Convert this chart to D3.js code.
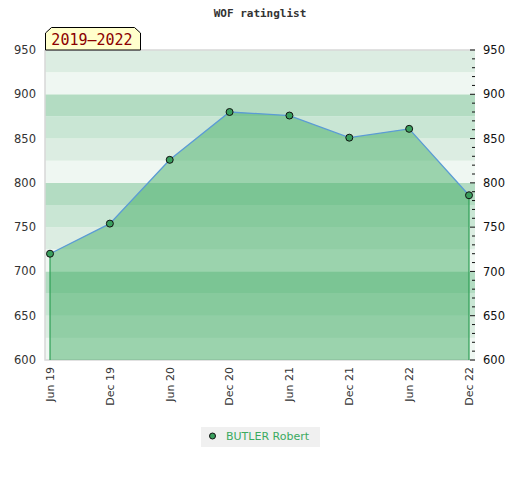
<!DOCTYPE html>
<html>
<head>
<meta charset="utf-8">
<script src="https://cdn.jsdelivr.net/npm/d3@7"></script>
<style>
  body { margin: 0; background: #fff; }
  svg { display: block; }
</style>
</head>
<body>
<script>
// data
const periods = ["Jun 19", "Dec 19", "Jun 20", "Dec 20", "Jun 21", "Dec 21", "Jun 22", "Dec 22"];
const ratings = [720, 754, 826, 880, 876, 851, 861, 786];
const yTicks = [600, 650, 700, 750, 800, 850, 900, 950];
const playerName = "BUTLER Robert";
const rangeLabel = "2019\u20132022";

const W = 520, H = 480;
const plot = { left: 45, right: 475, top: 50, bottom: 360 };

const svg = d3.select("body").append("svg")
    .attr("width", W)
    .attr("height", H);

const x = d3.scalePoint().domain(periods).range([50, 469]);
const y = d3.scaleLinear().domain([600, 950]).range([plot.bottom, plot.top]);

// background bands, 25 points each, repeating every 100
const bandColors = ["#b3dcc2", "#c9e6d4", "#dcede2", "#eff7f2"];
const bands = d3.range(600, 950, 25);
svg.append("g").selectAll("rect")
    .data(bands)
    .enter().append("rect")
    .attr("x", plot.left)
    .attr("width", plot.right - plot.left)
    .attr("y", d => y(d + 25))
    .attr("height", d => y(d) - y(d + 25))
    .attr("fill", d => bandColors[(3 - ((d % 100) / 25))]);

// frame
svg.append("path")
    .attr("d", `M${plot.left},${plot.top}H${plot.right}M${plot.left},${plot.top}V${plot.bottom}H${plot.right}`)
    .attr("fill", "none")
    .attr("stroke", "#d8d8d8")
    .attr("stroke-width", 1.5);

const pts = periods.map((p, i) => ({ p: p, v: ratings[i] }));

// area under the rating line
const area = d3.area()
    .x(d => x(d.p))
    .y0(y(600))
    .y1(d => y(d.v));

svg.append("path")
    .datum(pts)
    .attr("d", area)
    .attr("fill", "rgb(62,172,98)")
    .attr("fill-opacity", 0.48);

// green drop lines at both ends
svg.append("g").selectAll("line")
    .data([pts[0], pts[pts.length - 1]])
    .enter().append("line")
    .attr("x1", d => x(d.p)).attr("x2", d => x(d.p))
    .attr("y1", d => y(d.v)).attr("y2", y(600))
    .attr("stroke", "#2e9e55")
    .attr("stroke-width", 1.2);

const line = d3.line()
    .x(d => x(d.p))
    .y(d => y(d.v));

svg.append("path")
    .datum(pts)
    .attr("d", line)
    .attr("fill", "none")
    .attr("stroke", "#5b9bd5")
    .attr("stroke-width", 1.3);

svg.append("g").selectAll("circle")
    .data(pts)
    .enter().append("circle")
    .attr("cx", d => x(d.p))
    .attr("cy", d => y(d.v))
    .attr("r", 3.5)
    .attr("fill", "#3a9f5e")
    .attr("stroke", "#111")
    .attr("stroke-width", 1);

// left axis labels
svg.append("g").selectAll("text")
    .data(yTicks)
    .enter().append("text")
    .attr("x", 36)
    .attr("y", d => y(d))
    .attr("dy", "0.35em")
    .attr("text-anchor", "end")
    .attr("font-family", "DejaVu Sans, sans-serif")
    .attr("font-size", 11.5)
    .attr("fill", "#333")
    .text(d => d);

// right axis with minor ticks every 10
const rightAxis = d3.axisRight(y)
    .tickValues(yTicks)
    .tickSize(0)
    .tickPadding(8);

const ra = svg.append("g")
    .attr("transform", `translate(${plot.right},0)`)
    .call(rightAxis);
ra.select(".domain").remove();
ra.selectAll("text")
    .attr("font-family", "DejaVu Sans, sans-serif")
    .attr("font-size", 11.5)
    .attr("fill", "#111");

svg.append("g").selectAll("line")
    .data(d3.range(600, 951, 10))
    .enter().append("line")
    .attr("x1", d => d % 50 === 0 ? plot.right - 5 : plot.right - 3)
    .attr("x2", plot.right)
    .attr("y1", d => y(d)).attr("y2", d => y(d))
    .attr("stroke", "#111")
    .attr("stroke-width", 1);

// x labels, rotated
svg.append("g").selectAll("text")
    .data(periods)
    .enter().append("text")
    .attr("transform", d => `translate(${x(d)},${plot.bottom + 7}) rotate(-90)`)
    .attr("dy", "0.35em")
    .attr("text-anchor", "end")
    .attr("font-family", "DejaVu Sans, sans-serif")
    .attr("font-size", 11)
    .attr("fill", "#333")
    .text(d => d);

// title
svg.append("text")
    .attr("x", 260)
    .attr("y", 17)
    .attr("text-anchor", "middle")
    .attr("font-family", "DejaVu Sans Mono, monospace")
    .attr("font-weight", "bold")
    .attr("font-size", 11)
    .attr("fill", "#333")
    .text("WOF ratinglist");

// range tag top-left
svg.append("path")
    .attr("d", "M45.5,50V33L51.5,27.5H134.5L140.5,33V50Z")
    .attr("fill", "#ffffcc")
    .attr("stroke", "#000")
    .attr("stroke-width", 1);

svg.append("text")
    .attr("x", 92)
    .attr("y", 45)
    .attr("text-anchor", "middle")
    .attr("font-family", "DejaVu Sans Mono, monospace")
    .attr("font-size", 15)
    .attr("fill", "#8b0000")
    .text(rangeLabel);

// legend
const lg = svg.append("g").attr("transform", "translate(201,427)");
lg.append("rect")
    .attr("width", 119)
    .attr("height", 20)
    .attr("fill", "#f0f0f0");
lg.append("circle")
    .attr("cx", 11.5).attr("cy", 9)
    .attr("r", 3)
    .attr("fill", "#3a9f5e")
    .attr("stroke", "#111");
lg.append("text")
    .attr("x", 25)
    .attr("y", 13)
    .attr("font-family", "DejaVu Sans, sans-serif")
    .attr("font-size", 11)
    .attr("fill", "#3aaa5f")
    .text(playerName);
</script>
</body>
</html>
